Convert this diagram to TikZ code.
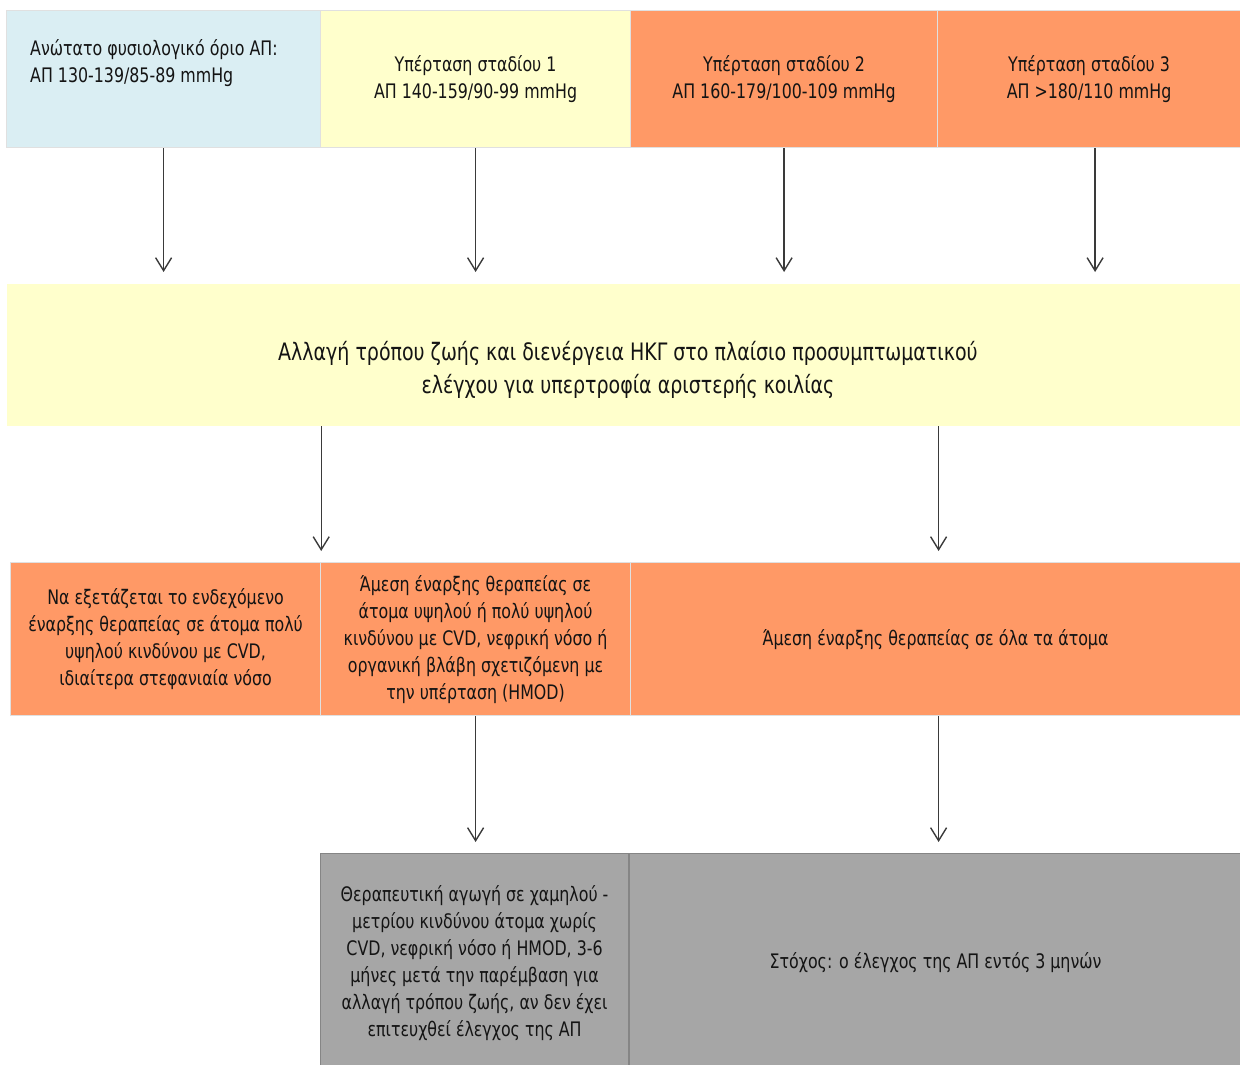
\documentclass[tikz,border=0pt]{standalone}
\usepackage{fontspec}
\setmainfont{DejaVu Sans Condensed}[FakeStretch=0.88]
\usetikzlibrary{arrows.meta}

\definecolor{bpNorm}{HTML}{DAEEF3}
\definecolor{bpOne}{HTML}{FFFFCC}
\definecolor{bpHigh}{HTML}{FF9966}
\definecolor{bpGoal}{HTML}{A6A6A6}
\definecolor{bpLine}{HTML}{3A3A3A}

\begin{document}
\begin{tikzpicture}[x=1pt, y=-1pt, font=\fontsize{20}{27}\selectfont, text=black!92,
  cell/.style={draw=black!12, line width=1.2pt, inner sep=0pt, anchor=north west, align=center},
  flow/.style={draw=bpLine, line width=1.4pt, shorten >=11pt,
    -{Straight Barb[length=13pt, width=16pt, line width=1.4pt]}}]
\useasboundingbox (0,0) rectangle (1240,1065);
\clip (0,0) rectangle (1240,1065);
% blood pressure grades
\node[cell, fill=bpNorm, minimum width=314pt, minimum height=137pt] (norm) at (6,10) {};
\node[anchor=west, align=left, inner sep=0pt] (normtxt) at (30,63)
  {Ανώτατο φυσιολογικό όριο ΑΠ:\\ΑΠ 130-139/85-89 mmHg};
\node[cell, fill=bpOne, minimum width=310pt, minimum height=137pt] (st1) at (320,10)
  {Υπέρταση σταδίου 1\\ΑΠ 140-159/90-99 mmHg};
\node[cell, fill=bpHigh, minimum width=307pt, minimum height=137pt] (st2) at (630,10)
  {Υπέρταση σταδίου 2\\ΑΠ 160-179/100-109 mmHg};
\node[cell, fill=bpHigh, minimum width=303pt, minimum height=137pt] (st3) at (937,10)
  {Υπέρταση σταδίου 3\\ΑΠ >180/110 mmHg};
% lifestyle band
\node[cell, draw=none, fill=bpOne, minimum width=1234pt, minimum height=142pt] (life) at (6,283) {};
\node[align=center, inner sep=0pt, font=\fontsize{24}{33}\selectfont] (lifetxt) at (628,370)
  {Αλλαγή τρόπου ζωής και διενέργεια ΗΚΓ στο πλαίσιο προσυμπτωματικού\\ελέγχου για υπερτροφία αριστερής κοιλίας};
% treatment start
\node[cell, fill=bpHigh, minimum width=310pt, minimum height=153pt] (treatA) at (10,562)
  {Να εξετάζεται το ενδεχόμενο\\έναρξης θεραπείας σε άτομα πολύ\\υψηλού κινδύνου με CVD,\\ιδιαίτερα στεφανιαία νόσο};
\node[cell, fill=bpHigh, minimum width=310pt, minimum height=153pt] (treatB) at (320,562)
  {Άμεση έναρξης θεραπείας σε\\άτομα υψηλού ή πολύ υψηλού\\κινδύνου με CVD, νεφρική νόσο ή\\οργανική βλάβη σχετιζόμενη με\\την υπέρταση (HMOD)};
\node[cell, fill=bpHigh, minimum width=610pt, minimum height=153pt] (treatC) at (630,562)
  {Άμεση έναρξης θεραπείας σε όλα τα άτομα};
% goals
\node[cell, draw=black!48, fill=bpGoal, minimum width=308pt, minimum height=218pt] (goalA) at (320,853)
  {Θεραπευτική αγωγή σε χαμηλού ‐\\μετρίου κινδύνου άτομα χωρίς\\CVD, νεφρική νόσο ή HMOD, 3-6\\μήνες μετά την παρέμβαση για\\αλλαγή τρόπου ζωής, αν δεν έχει\\επιτευχθεί έλεγχος της ΑΠ};
\node[cell, draw=black!48, fill=bpGoal, minimum width=612pt, minimum height=218pt] (goalB) at (629,853)
  {Στόχος: ο έλεγχος της ΑΠ εντός 3 μηνών};
% arrows
\draw[flow] (norm.south) -- (norm.south |- life.north);
\draw[flow] (st1.south) -- (st1.south |- life.north);
\draw[flow] (st2.south) -- (st2.south |- life.north);
\draw[flow] ([xshift=6pt]st3.south) -- ([xshift=6pt]st3.south |- life.north);
\draw[flow] (life.south -| treatA.east) -- (treatA.north east);
\draw[flow] ([xshift=3pt]life.south -| treatC.north) -- ([xshift=3pt]treatC.north);
\draw[flow] (treatB.south) -- (treatB.south |- goalA.north);
\draw[flow] ([xshift=3pt]treatC.south) -- ([xshift=3pt]treatC.south |- goalB.north);
\end{tikzpicture}
\end{document}
